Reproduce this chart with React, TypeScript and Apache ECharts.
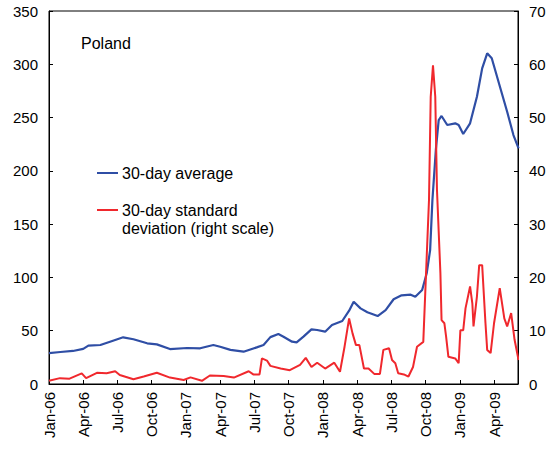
import React, { useEffect, useRef } from "react";
import * as echarts from "echarts";

// x positions are months since Jan-2006
const avgMonths = [0, 1, 2.1, 3, 3.45, 4.5, 5.35, 6.5, 7.4, 8.6, 9.45, 10.6, 12.1, 13.25, 14.4, 15, 15.9, 17.05, 18.2, 18.8, 19.4, 20.1, 20.55, 21.3, 21.7, 22.3, 23.0, 23.5, 24.2, 24.8, 25.7, 26.3, 26.7, 27.3, 27.9, 28.8, 29.5, 30.2, 30.9, 31.7, 32.1, 32.7, 33.1, 33.4, 33.6, 33.9, 34.15, 34.4, 34.9, 35.6, 35.9, 36.3, 36.9, 37.5, 37.96, 38.4, 38.8, 39.6, 40.15, 40.7, 41.15];
const avgValues = [29, 30, 31, 33, 36, 36.6, 39.7, 43.8, 42, 38.2, 37.2, 32.8, 33.8, 33.5, 36.6, 35, 32, 30.3, 34.4, 36.6, 44, 46.9, 44.4, 39.7, 39.1, 44.4, 51.3, 50.7, 49.1, 55.4, 59.1, 68.8, 77.2, 71, 67.3, 63.8, 69.4, 79.5, 83.2, 83.8, 81.9, 88.2, 103.9, 125.7, 172.7, 219.6, 247.7, 251.5, 243, 244.6, 243, 234.6, 244.6, 269.6, 296.2, 310.3, 305.6, 275.9, 255.5, 233.6, 221.1];

const sdMonths = [0, 0.96, 1.8, 2.87, 3.25, 4.2, 5.05, 5.8, 6.2, 7.4, 8.3, 9.45, 10.6, 11.8, 12.4, 13.4, 14.1, 15.3, 16.2, 17.5, 17.9, 18.45, 18.66, 19.1, 19.4, 20.3, 21.1, 22.0, 22.5, 23.0, 23.5, 24.2, 25, 25.5, 25.9, 26.3, 26.6, 26.9, 27.2, 27.6, 28.0, 28.5, 29.0, 29.3, 29.8, 30.06, 30.35, 30.6, 31.1, 31.5, 31.9, 32.25, 32.8, 33.1, 33.3, 33.45, 33.65, 33.85, 34.0, 34.3, 34.4, 34.65, 34.8, 35.0, 35.6, 35.9, 36.05, 36.3, 36.5, 36.9, 37.1, 37.2, 37.5, 37.7, 37.96, 38.25, 38.4, 38.7, 39.0, 39.5, 39.9, 40.15, 40.5, 40.8, 41.15];
const sdValues = [0.6, 1.1, 1.0, 2.0, 1.1, 2.1, 2.0, 2.4, 1.7, 0.9, 1.4, 2.1, 1.2, 0.75, 1.25, 0.6, 1.6, 1.5, 1.2, 2.4, 1.8, 1.8, 4.8, 4.4, 3.4, 2.9, 2.6, 3.6, 4.9, 3.2, 4.0, 2.9, 4.0, 2.3, 7.0, 12.3, 9.5, 7.3, 7.3, 2.9, 2.9, 1.9, 1.9, 6.4, 6.7, 4.5, 3.9, 2.0, 1.8, 1.4, 3.2, 7.0, 7.9, 23.9, 34.5, 53.9, 59.8, 53.9, 36.4, 20.8, 12, 11.4, 8.9, 5.1, 4.8, 3.9, 10.1, 10.1, 14.2, 18.3, 15.1, 10.8, 16.4, 22.3, 22.3, 11.4, 6.4, 5.8, 11.4, 18.0, 12.3, 10.8, 13.3, 8.3, 4.5];

const monthNames = ["Jan", "Feb", "Mar", "Apr", "May", "Jun", "Jul", "Aug", "Sep", "Oct", "Nov", "Dec"];
const startYear = 2006;
const xMax = 41.1;

const FONT = "'Liberation Sans', Arial, sans-serif";
const BLUE = "#2f4ea5";
const RED = "#f0282d";

export default function App() {
  const ref = useRef<HTMLDivElement>(null);
  useEffect(() => {
    if (!ref.current) return;
    const chart = echarts.init(ref.current, undefined, { renderer: "svg" });
    const avgData = avgMonths.map((m, i) => [m, avgValues[i]]);
    const sdData = sdMonths.map((m, i) => [m, sdValues[i]]);
    chart.setOption({
      animation: false,
      textStyle: { fontFamily: FONT },
      grid: { left: 49, right: 36, top: 11, bottom: 67, show: true, borderColor: "#000", borderWidth: 1 },
      title: {
        text: "Poland",
        left: 76,
        top: 30,
        textStyle: { fontFamily: FONT, fontSize: 16, fontWeight: "normal", color: "#000" },
      },
      xAxis: {
        type: "value",
        min: 0,
        max: xMax,
        interval: 3,
        splitLine: { show: false },
        axisLine: { lineStyle: { color: "#000", width: 1 } },
        axisTick: { inside: true, length: 4, lineStyle: { color: "#000" } },
        axisLabel: {
          rotate: 90,
          color: "#000",
          fontSize: 15,
          fontFamily: FONT,
          margin: 8,
          formatter: (v: number) => {
            if (Math.abs(v % 3) > 1e-6) return "";
            const mi = Math.round(v);
            const y = startYear + Math.floor(mi / 12);
            return monthNames[mi % 12] + "-" + String(y % 100).padStart(2, "0");
          },
        },
      },
      yAxis: [
        {
          type: "value",
          min: 0,
          max: 350,
          interval: 50,
          splitLine: { show: false },
          axisLine: { show: true, lineStyle: { color: "#000" } },
          axisTick: { show: true, inside: true, length: 4, lineStyle: { color: "#000" } },
          axisLabel: { color: "#000", fontSize: 15, fontFamily: FONT, margin: 11 },
        },
        {
          type: "value",
          min: 0,
          max: 70,
          interval: 10,
          position: "right",
          splitLine: { show: false },
          axisLine: { show: true, lineStyle: { color: "#000" } },
          axisTick: { show: true, inside: true, length: 4, lineStyle: { color: "#000" } },
          axisLabel: { color: "#000", fontSize: 15, fontFamily: FONT, margin: 11 },
        },
      ],
      graphic: [
        { type: "line", shape: { x1: 97, y1: 173, x2: 118, y2: 173 }, style: { stroke: BLUE, lineWidth: 2 } },
        { type: "text", x: 122, y: 173, style: { text: "30-day average", font: `16px ${FONT}`, fill: "#000", verticalAlign: "middle" } },
        { type: "line", shape: { x1: 97, y1: 210, x2: 118, y2: 210 }, style: { stroke: RED, lineWidth: 2 } },
        { type: "text", x: 122, y: 201, style: { text: "30-day standard\ndeviation (right scale)", font: `16px ${FONT}`, fill: "#000", lineHeight: 18, verticalAlign: "top" } },
      ],
      series: [
        {
          name: "30-day average",
          type: "line",
          yAxisIndex: 0,
          data: avgData,
          showSymbol: false,
          lineStyle: { color: BLUE, width: 2.2 },
          itemStyle: { color: BLUE },
          z: 3,
        },
        {
          name: "30-day standard deviation (right scale)",
          type: "line",
          yAxisIndex: 1,
          data: sdData,
          showSymbol: false,
          lineStyle: { color: RED, width: 2 },
          itemStyle: { color: RED },
          z: 4,
        },
      ],
    });
    return () => chart.dispose();
  }, []);
  return <div ref={ref} style={{ position: "absolute", left: 0, top: 0, width: 554, height: 451 }} />;
}
